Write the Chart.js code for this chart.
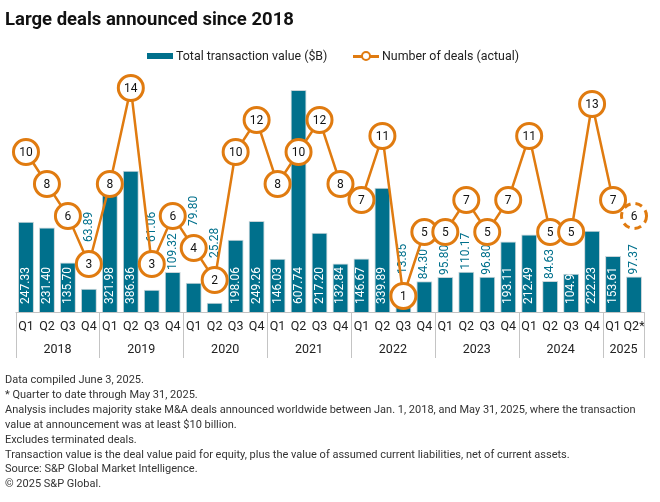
<!DOCTYPE html>
<html lang="en">
<head>
<meta charset="UTF-8">
<title>Large deals announced since 2018</title>
<script src="https://cdn.jsdelivr.net/npm/chart.js"></script>
<style>
    body {
        margin: 0;
        width: 660px;
        height: 502px;
        background: #fff;
        font-family: Roboto, 'Liberation Sans', sans-serif;
        color: #222;
        position: relative;
        overflow: hidden;
    }
    canvas { position: absolute; left: 0; top: 0; }
    .title {
        position: absolute; left: 5px; top: 8px;
        font-size: 18.5px; font-weight: bold; color: #111;
        white-space: nowrap;
    }
    .legend span { position: absolute; white-space: nowrap; }
    .legend .txt { top: 48px; font-size: 12.4px; color: #222; }
    .sw-bar { left: 147px; top: 53px; width: 26px; height: 6px; background: #00708c; }
    .sw-line { left: 353px; top: 55px; width: 26px; height: 2.5px; background: #e07b10; }
    .sw-dot {
        left: 361px; top: 51px; width: 6px; height: 6px; border-radius: 50%;
        border: 2px solid #e07b10; background: #fff;
    }
    .notes {
        position: absolute; left: 5px; top: 373px;
        font-size: 11px; line-height: 14.9px; color: #333;
        white-space: nowrap;
    }
</style>
</head>
<body>
<canvas id="chart" width="660" height="502"></canvas>
<div class="title">Large deals announced since 2018</div>
<div class="legend">
    <span class="sw-bar"></span>
    <span class="txt" style="left:176px">Total transaction value ($B)</span>
    <span class="sw-line"></span>
    <span class="sw-dot"></span>
    <span class="txt" style="left:382px">Number of deals (actual)</span>
</div>
<div class="notes">
    Data compiled June 3, 2025.<br>
    * Quarter to date through May 31, 2025.<br>
    Analysis includes majority stake M&amp;A deals announced worldwide between Jan. 1, 2018, and May 31, 2025, where the transaction<br>
    value at announcement was at least $10 billion.<br>
    Excludes terminated deals.<br>
    Transaction value is the deal value paid for equity, plus the value of assumed current liabilities, net of current assets.<br>
    Source: S&amp;P Global Market Intelligence.<br>
    &copy; 2025 S&amp;P Global.
</div>

<script>
    const quarters = ['Q1', 'Q2', 'Q3', 'Q4', 'Q1', 'Q2', 'Q3', 'Q4', 'Q1', 'Q2', 'Q3', 'Q4',
        'Q1', 'Q2', 'Q3', 'Q4', 'Q1', 'Q2', 'Q3', 'Q4', 'Q1', 'Q2', 'Q3', 'Q4',
        'Q1', 'Q2', 'Q3', 'Q4', 'Q1', 'Q2*'];
    const years = ['2018', '2019', '2020', '2021', '2022', '2023', '2024', '2025'];
    const quartersPerYear = [4, 4, 4, 4, 4, 4, 4, 2];
    // transaction value ($B), kept as text so the labels read like the original
    const dealValueText = ['247.33', '231.40', '135.70', '63.89', '321.98', '386.36', '61.06', '109.32',
        '79.80', '25.28', '198.06', '249.26', '146.03', '607.74', '217.20', '132.84',
        '146.67', '339.89', '13.85', '84.30', '95.80', '110.17', '96.80', '193.11',
        '212.49', '84.63', '104.9', '222.23', '153.61', '97.37'];
    const dealValue = dealValueText.map(Number);
    const dealCount = [10, 8, 6, 3, 8, 14, 3, 6, 4, 2, 10, 12, 8, 10, 12, 8,
        7, 11, 1, 5, 5, 7, 5, 7, 11, 5, 5, 13, 7, 6];

    const TEAL = '#00708c';
    const ORANGE = '#e07b10';
    const FONT = 'Roboto, "Liberation Sans", sans-serif';
    const last = dealCount.length - 1;
    const R = 12.5;

    const overlay = {
        id: 'overlay',
        beforeDatasetsDraw(chart) {
            const { ctx, chartArea: a } = chart;
            ctx.save();
            ctx.strokeStyle = '#c4c4c4';
            ctx.lineWidth = 1;
            ctx.beginPath();
            ctx.moveTo(a.left, a.bottom + 0.5);
            ctx.lineTo(a.right, a.bottom + 0.5);
            ctx.stroke();
            ctx.restore();
        },
        afterDatasetDraw(chart, args) {
            if (args.index !== 0) return;
            const ctx = chart.ctx;
            const y2 = chart.scales.y2;
            const meta = chart.getDatasetMeta(0);
            ctx.save();
            ctx.font = '12px ' + FONT;
            ctx.textBaseline = 'middle';
            ctx.textAlign = 'left';
            meta.data.forEach((bar, i) => {
                const txt = dealValueText[i];
                const w = ctx.measureText(txt).width;
                const h = bar.base - bar.y;
                let start, color;
                if (h >= w + 7) {
                    start = bar.base - 8;
                    color = '#fff';
                } else {
                    start = bar.y - 2;
                    const cy = y2.getPixelForValue(dealCount[i]);
                    const top = cy - R - 1.5, bot = cy + R + 1.5;
                    const overlap = Math.min(start, bot) - Math.max(start - w, top);
                    if (overlap > 8) start = top - 8;
                    color = TEAL;
                }
                ctx.save();
                ctx.translate(bar.x, start);
                ctx.rotate(-Math.PI / 2);
                ctx.fillStyle = color;
                ctx.fillText(txt, 0, 0);
                ctx.restore();
            });
            ctx.restore();
        },
        afterDatasetsDraw(chart) {
            const ctx = chart.ctx;
            const meta = chart.getDatasetMeta(1);
            ctx.save();
            // last quarter is still open: dashed marker, no connecting line
            const p = meta.data[last];
            ctx.beginPath();
            ctx.arc(p.x, p.y, R, 0, Math.PI * 2);
            ctx.fillStyle = '#fff';
            ctx.fill();
            ctx.setLineDash([7, 5]);
            ctx.lineWidth = 3;
            ctx.strokeStyle = ORANGE;
            ctx.stroke();
            ctx.setLineDash([]);

            ctx.font = '12px ' + FONT;
            ctx.fillStyle = '#111';
            ctx.textAlign = 'center';
            ctx.textBaseline = 'middle';
            meta.data.forEach((pt, i) => {
                ctx.fillText(String(dealCount[i]), pt.x, pt.y + 0.5);
            });
            ctx.restore();
        },
        afterDraw(chart) {
            const { ctx, chartArea: a } = chart;
            const x = chart.scales.x;
            const cw = (a.right - a.left) / quarters.length;
            ctx.save();
            ctx.font = '12.5px ' + FONT;
            ctx.fillStyle = '#222';
            ctx.textAlign = 'center';
            ctx.textBaseline = 'middle';
            quarters.forEach((q, i) => {
                ctx.fillText(q, x.getPixelForValue(i), a.bottom + 15);
            });
            ctx.strokeStyle = '#c4c4c4';
            ctx.lineWidth = 1;
            let idx = 0;
            years.forEach((yr, k) => {
                const x0 = a.left + idx * cw;
                const x1 = a.left + (idx + quartersPerYear[k]) * cw;
                ctx.fillText(yr, (x0 + x1) / 2, a.bottom + 38);
                ctx.beginPath();
                ctx.moveTo(Math.round(x0) + 0.5, a.bottom);
                ctx.lineTo(Math.round(x0) + 0.5, a.bottom + 46);
                ctx.stroke();
                idx += quartersPerYear[k];
            });
            ctx.beginPath();
            ctx.moveTo(Math.round(a.right) - 0.5, a.bottom);
            ctx.lineTo(Math.round(a.right) - 0.5, a.bottom + 46);
            ctx.stroke();
            ctx.restore();
        }
    };

    new Chart(document.getElementById('chart'), {
        data: {
            labels: quarters,
            datasets: [
                {
                    type: 'bar',
                    label: 'Total transaction value ($B)',
                    data: dealValue,
                    yAxisID: 'y',
                    backgroundColor: TEAL,
                    borderColor: '#c9d4d8',
                    borderWidth: 1,
                    barPercentage: 0.76,
                    categoryPercentage: 1,
                    order: 2
                },
                {
                    type: 'line',
                    label: 'Number of deals (actual)',
                    data: dealCount,
                    yAxisID: 'y2',
                    borderColor: ORANGE,
                    borderWidth: 2.5,
                    pointRadius: c => c.dataIndex === last ? 0 : R,
                    pointHoverRadius: c => c.dataIndex === last ? 0 : R,
                    pointBorderWidth: 3,
                    pointBorderColor: ORANGE,
                    pointBackgroundColor: '#fff',
                    segment: {
                        borderColor: c => c.p1DataIndex === last ? 'rgba(0,0,0,0)' : ORANGE
                    },
                    tension: 0,
                    clip: false,
                    order: 1
                }
            ]
        },
        options: {
            responsive: false,
            animation: false,
            events: [],
            layout: { padding: { left: 12, right: 12, top: 72, bottom: 190 } },
            plugins: { legend: { display: false }, tooltip: { enabled: false } },
            scales: {
                x: { display: false, offset: true, grid: { display: false } },
                y: { display: false, min: 0, max: 657 },
                y2: { display: false, min: 0, max: 15, position: 'right' }
            }
        },
        plugins: [overlay]
    });
</script>
</body>
</html>
